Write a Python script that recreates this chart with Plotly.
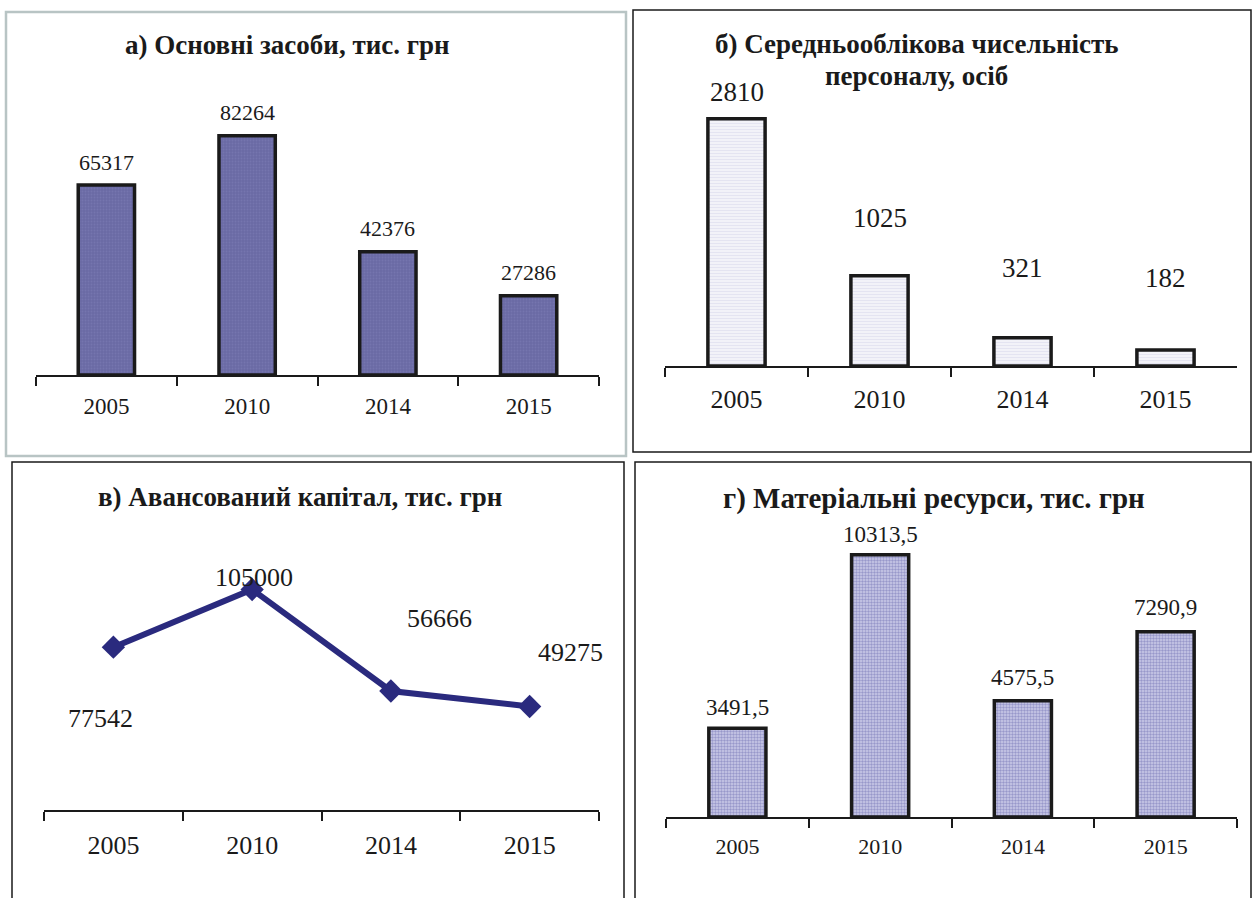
import plotly.graph_objects as go

W, H = 1253, 898

years = ["2005", "2010", "2014", "2015"]
fixed_assets = [65317, 82264, 42376, 27286]
staff = [2810, 1025, 321, 182]
adv_capital = [77542, 105000, 56666, 49275]
materials = [3491.5, 10313.5, 4575.5, 7290.9]
materials_labels = ["3491,5", "10313,5", "4575,5", "7290,9"]

title_a = "а) Основні засоби, тис. грн"
title_b1 = "б) Середньооблікова чисельність"
title_b2 = "персоналу, осіб"
title_c = "в) Авансований капітал, тис. грн"
title_d = "г) Матеріальні ресурси, тис. грн"

FONT = "Liberation Serif"
INK = "#1a1a1a"

def xd(px0, px1):
    return [px0 / W, px1 / W]

def yd(top, bottom):
    return [1 - bottom / H, 1 - top / H]

fig = go.Figure()

# panel layout in pixels: x extent of axis, plot top, axis line y, pixels per unit
panels = {
    "a": dict(x=(36, 599), top=100, axis=375, ppu=0.002908, ax="x", ay="y", tf=23, so=10),
    "b": dict(x=(665, 1237), top=80, axis=366, ppu=0.0880, ax="x2", ay="y2", tf=26, so=9),
    "c": dict(x=(44, 599), top=560, axis=810, ppu=0.0021, ax="x3", ay="y3", tf=26, so=11),
    "d": dict(x=(666, 1237), top=520, axis=817, ppu=0.02542, ax="x4", ay="y4", tf=22, so=9),
}

fig.add_trace(go.Bar(
    x=years, y=fixed_assets, xaxis="x", yaxis="y", width=0.4,
    marker=dict(color="#6E6EA8", line=dict(color=INK, width=3.5),
                pattern=dict(shape=".", fgcolor="#8080B8", bgcolor="#6A6AA4", size=3, solidity=0.3)),
    showlegend=False, hoverinfo="x+y"))
fig.add_trace(go.Bar(
    x=years, y=staff, xaxis="x2", yaxis="y2", width=0.4,
    marker=dict(color="#EAEAF4", line=dict(color=INK, width=3.5),
                pattern=dict(shape="-", fgcolor="#D4D4EA", bgcolor="#F2F2F8", size=3, solidity=0.3)),
    showlegend=False, hoverinfo="x+y"))
fig.add_trace(go.Scatter(
    x=years, y=adv_capital, xaxis="x3", yaxis="y3", mode="lines+markers",
    line=dict(color="#2A2A7E", width=6),
    marker=dict(symbol="diamond", size=18, color="#2A2A7E"),
    showlegend=False, hoverinfo="x+y"))
fig.add_trace(go.Bar(
    x=years, y=materials, xaxis="x4", yaxis="y4", width=0.4,
    marker=dict(color="#9898CC", line=dict(color=INK, width=3.5),
                pattern=dict(shape=".", fgcolor="#6464AC", bgcolor="#CCCCE8", size=3, solidity=0.5)),
    showlegend=False, hoverinfo="x+y"))

layout = dict(
    width=W, height=H, margin=dict(l=0, r=0, t=0, b=0),
    paper_bgcolor="white", plot_bgcolor="rgba(0,0,0,0)",
    font=dict(family=FONT, color=INK),
)

for key, p in panels.items():
    xn = "xaxis" + p["ax"][1:]
    yn = "yaxis" + p["ay"][1:]
    layout[xn] = dict(
        domain=xd(*p["x"]), anchor=p["ay"], type="category",
        range=[-0.5, 3.5], showline=True, linecolor=INK, linewidth=1.5,
        ticks="outside", tickson="boundaries", ticklen=9, tickwidth=1.5, tickcolor=INK,
        tickfont=dict(family=FONT, size=p["tf"], color=INK), ticklabelstandoff=p["so"],
        showgrid=False, zeroline=False, fixedrange=True,
    )
    layout[yn] = dict(
        domain=yd(p["top"], p["axis"]), anchor=p["ax"],
        range=[0, (p["axis"] - p["top"]) / p["ppu"]],
        visible=False, showgrid=False, zeroline=False, fixedrange=True,
    )

fig.update_layout(**layout)

annotations = []

def label(xref, yref, x, y, text, size, xs, ys):
    annotations.append(dict(
        xref=xref, yref=yref, x=x, y=y, text=text, showarrow=False,
        font=dict(family=FONT, size=size, color=INK),
        xanchor="center", yanchor="middle", xshift=xs, yshift=ys))

# data labels: pixel offsets from each data point
a_shift = [23, 23, 23, 23]
for i, (v, s) in enumerate(zip(fixed_assets, a_shift)):
    label("x", "y", i, v, str(v), 22, 0, s)

b_shift = [27, 58, 70, 72]
for i, (v, s) in enumerate(zip(staff, b_shift)):
    label("x2", "y2", i, v, str(v), 27, 0, s)

c_xs = [-13, 2, 49, 41]
c_ys = [-71, 12, 73, 54]
for i, (v, xs, ys) in enumerate(zip(adv_capital, c_xs, c_ys)):
    label("x3", "y3", i, v, str(v), 26, xs, ys)

d_shift = [21, 20, 23, 24]
for i, (t, v, s) in enumerate(zip(materials_labels, materials, d_shift)):
    label("x4", "y4", i, v, t, 23, 0, s)

def title(text, px, py, size):
    annotations.append(dict(
        xref="paper", yref="paper", x=px / W, y=1 - py / H, text="<b>" + text + "</b>",
        showarrow=False, xanchor="center", yanchor="middle",
        font=dict(family=FONT, size=size, color=INK)))

title(title_a, 287, 45, 27)
title(title_b1, 917, 44, 27)
title(title_b2, 917, 76, 27)
title(title_c, 300, 497, 27)
title(title_d, 934, 498, 29)

fig.update_layout(annotations=annotations)

def frame(x0, y0, x1, y1, color, width):
    fig.add_shape(type="rect", xref="paper", yref="paper",
                  x0=x0 / W, x1=x1 / W, y0=1 - y1 / H, y1=1 - y0 / H,
                  line=dict(color=color, width=width), fillcolor="rgba(0,0,0,0)", layer="below")

frame(6, 12, 626, 456, "#B8C4C4", 2.5)
frame(633, 10, 1251, 452, INK, 1.5)
frame(12, 462, 624, 905, INK, 1.5)
frame(635, 462, 1251, 905, INK, 1.5)

fig.write_html("out.html", config={"displayModeBar": False},
               post_script="document.body.style.margin='0px';")
